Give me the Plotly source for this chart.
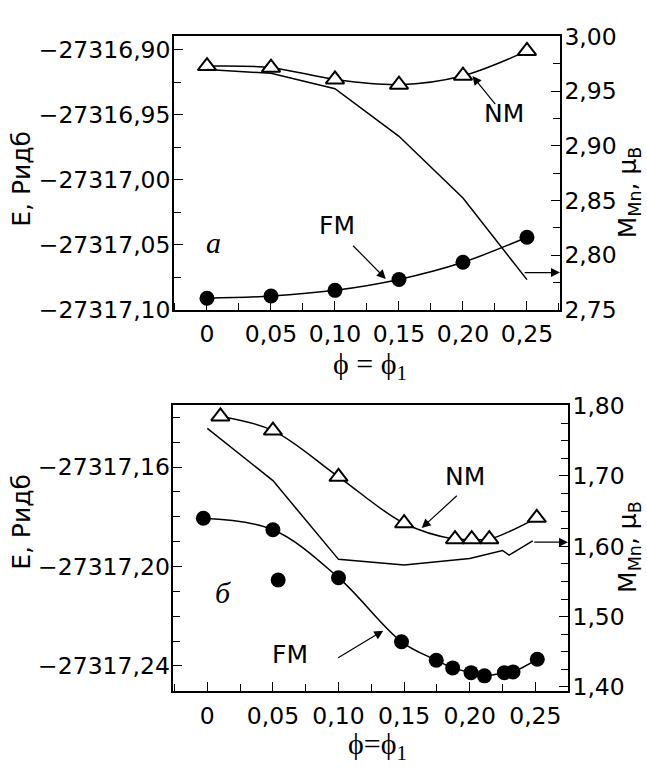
import plotly.graph_objects as go

# ---------------- Panel a ----------------
phi_a = [0, 0.05, 0.10, 0.15, 0.20, 0.25]
E_nm_a = [-27316.9124, -27316.9136, -27316.9227, -27316.9267, -27316.9198, -27316.9007]
E_fm_a = [-27317.0911, -27317.0894, -27317.0850, -27317.0766, -27317.0634, -27317.0441]
M_a = [2.9698, 2.9663, 2.9522, 2.9087, 2.8523, 2.7776]

# ---------------- Panel b ----------------
phi_nm_b = [0.01, 0.05, 0.10, 0.15, 0.1888, 0.2015, 0.2149, 0.2511]
E_nm_b = [-27317.1396, -27317.1453, -27317.1639, -27317.1826, -27317.1890,
          -27317.1890, -27317.1890, -27317.1804]
phi_fm_b = [-0.003, 0.05, 0.054, 0.10, 0.148, 0.1745, 0.187, 0.201, 0.2112,
            0.2264, 0.233, 0.2515]
E_fm_b = [-27317.1806, -27317.1852, -27317.2054, -27317.2045, -27317.2303,
          -27317.2377, -27317.2408, -27317.2427, -27317.2440, -27317.2427,
          -27317.2424, -27317.2373]
fm_b_outlier = 2  # point not on the fitted curve
phi_m_b = [0, 0.05, 0.10, 0.15, 0.20, 0.225, 0.23, 0.248]
M_b = [1.7678, 1.6934, 1.5814, 1.5735, 1.5827, 1.5941, 1.5873, 1.6078]

# ---------------- Ticks ----------------
x_tickvals = [0, 0.05, 0.10, 0.15, 0.20, 0.25]
x_ticktext = ["0", "0,05", "0,10", "0,15", "0,20", "0,25"]
Ea_tickvals = [-27317.10, -27317.05, -27317.00, -27316.95, -27316.90]
Ea_ticktext = ["\u221227317,10", "\u221227317,05", "\u221227317,00", "\u221227316,95", "\u221227316,90"]
Ma_tickvals = [2.75, 2.80, 2.85, 2.90, 2.95, 3.00]
Ma_ticktext = ["2,75", "2,80", "2,85", "2,90", "2,95", "3,00"]
Eb_tickvals = [-27317.24, -27317.20, -27317.16]
Eb_ticktext = ["\u221227317,24", "\u221227317,20", "\u221227317,16"]
Mb_tickvals = [1.40, 1.50, 1.60, 1.70, 1.80]
Mb_ticktext = ["1,40", "1,50", "1,60", "1,70", "1,80"]

SANS = "DejaVu Sans, Liberation Sans, sans-serif"
SERIF = "Liberation Serif, Times New Roman, serif"
FS = 23.5
LW = 1.5

fig = go.Figure()

tri = dict(symbol="triangle-up", size=16, color="white", line=dict(color="black", width=2))
dot = dict(symbol="circle", size=15, color="black")

# Panel a traces
fig.add_trace(go.Scatter(x=phi_a, y=M_a, mode="lines", line=dict(color="black", width=LW),
                         xaxis="x", yaxis="y2"))
fig.add_trace(go.Scatter(x=phi_a, y=E_nm_a, mode="lines", line=dict(color="black", width=LW, shape="spline", smoothing=1),
                         xaxis="x", yaxis="y"))
fig.add_trace(go.Scatter(x=phi_a, y=E_fm_a, mode="lines", line=dict(color="black", width=LW, shape="spline", smoothing=1),
                         xaxis="x", yaxis="y"))
fig.add_trace(go.Scatter(x=phi_a, y=E_nm_a, mode="markers", marker=tri, xaxis="x", yaxis="y"))
fig.add_trace(go.Scatter(x=phi_a, y=E_fm_a, mode="markers", marker=dot, xaxis="x", yaxis="y"))

# Panel b traces
curve_x = [v for i, v in enumerate(phi_fm_b) if i != fm_b_outlier]
curve_y = [v for i, v in enumerate(E_fm_b) if i != fm_b_outlier]
fig.add_trace(go.Scatter(x=phi_m_b, y=M_b, mode="lines", line=dict(color="black", width=LW),
                         xaxis="x2", yaxis="y4"))
fig.add_trace(go.Scatter(x=phi_nm_b, y=E_nm_b, mode="lines", line=dict(color="black", width=LW, shape="spline", smoothing=1),
                         xaxis="x2", yaxis="y3"))
fig.add_trace(go.Scatter(x=curve_x, y=curve_y, mode="lines", line=dict(color="black", width=LW, shape="spline", smoothing=1),
                         xaxis="x2", yaxis="y3"))
fig.add_trace(go.Scatter(x=phi_nm_b, y=E_nm_b, mode="markers", marker=tri, xaxis="x2", yaxis="y3"))
fig.add_trace(go.Scatter(x=phi_fm_b, y=E_fm_b, mode="markers", marker=dot, xaxis="x2", yaxis="y3"))

common = dict(showline=True, linecolor="black", linewidth=LW, showgrid=False, zeroline=False,
              ticks="inside", ticklen=9, tickwidth=1.3, tickcolor="black",
              tickfont=dict(family=SANS, size=FS, color="black"))

def minor(t0, dt):
    return dict(tickmode="linear", tick0=t0, dtick=dt, ticks="inside", ticklen=7, tickwidth=1.3, tickcolor="black")

xr_a = [-0.0258, 0.2758]
xr_b = [-0.0259, 0.2749]

fig.update_layout(
    width=647, height=770, margin=dict(l=0, r=0, t=0, b=0),
    paper_bgcolor="white", plot_bgcolor="white", showlegend=False,
    xaxis=dict(domain=[0.2689, 0.8655], anchor="y", range=xr_a, mirror=True,
               tickmode="array", tickvals=x_tickvals, ticktext=x_ticktext, ticklabelstandoff=2,
               minor=minor(0, 0.025), **common),
    yaxis=dict(domain=[0.6013, 0.9697], anchor="x", range=[-27317.10, -27316.8896], mirror=True,
               tickmode="array", tickvals=Ea_tickvals, ticktext=Ea_ticktext, ticklabelstandoff=-3,
               minor=minor(-27317.10, 0.025), **common),
    yaxis2=dict(overlaying="y", side="right", anchor="x", range=[2.75, 3.0],
                tickmode="array", tickvals=Ma_tickvals, ticktext=Ma_ticktext, ticklabelstandoff=-2,
                minor=minor(2.75, 0.025), **common),
    xaxis2=dict(domain=[0.2679, 0.8779], anchor="y3", range=xr_b, mirror=True,
                tickmode="array", tickvals=x_tickvals, ticktext=x_ticktext, ticklabelstandoff=3,
                minor=minor(0, 0.025), **common),
    yaxis3=dict(domain=[0.0879, 0.4731], anchor="x2", range=[-27317.25, -27317.135], mirror=True,
                tickmode="array", tickvals=Eb_tickvals, ticktext=Eb_ticktext, ticklabelstandoff=-3,
                minor=minor(-27317.25, 0.01), **common),
    yaxis4=dict(overlaying="y3", side="right", anchor="x2", range=[1.3945, 1.801],
                tickmode="array", tickvals=Mb_tickvals, ticktext=Mb_ticktext, ticklabelstandoff=-2,
                minor=minor(1.40, 0.025), **common),
)

ann = []
lab = dict(family=SANS, size=25, color="black")
ttl = dict(family=SANS, size=25, color="black")
ital = dict(family=SERIF, size=30, color="black")

def text(x, y, t, xref, yref, font):
    ann.append(dict(x=x, y=y, text=t, xref=xref, yref=yref, showarrow=False, font=font,
                    xanchor="center", yanchor="middle"))

def arrow(x, y, ax, ay, xref, yref):
    ann.append(dict(x=x, y=y, ax=ax, ay=ay, xref=xref, yref=yref, axref=xref, ayref=yref,
                    text="", showarrow=True, arrowhead=2, arrowsize=1.5, arrowwidth=1.2,
                    arrowcolor="black", standoff=0, startstandoff=0))

# panel a labels
text(0.0049, -27317.0478, "<i>a</i>", "x", "y", ital)
text(0.1019, -27317.0354, "FM", "x", "y", lab)
arrow(0.1397, -27317.0762, 0.113, -27317.0495, "x", "y")
text(0.2318, -27316.949, "NM", "x", "y", lab)
arrow(0.2074, -27316.920, 0.2262, -27316.9428, "x", "y")
arrow(xr_a[1], 2.7841, phi_a[-1] - 0.003, 2.7841, "x", "y2")

# panel b labels
text(0.0117, -27317.2103, "<i>б</i>", "x2", "y3", ital)
text(0.063, -27317.2355, "FM", "x2", "y3", lab)
arrow(0.1341, -27317.2258, 0.0986, -27317.2371, "x2", "y3")
text(0.1964, -27317.1639, "NM", "x2", "y3", lab)
arrow(0.1634, -27317.1845, 0.1913, -27317.1710, "x2", "y3")
arrow(xr_b[1], M_b[-1] - 0.002, phi_m_b[-1], M_b[-1] - 0.002, "x2", "y4")

# axis titles
for yy in (1 - 171 / 770, 1 - 527 / 770):
    text(22 / 647, yy, "E, Ридб", "paper", "paper", ttl)
    ann[-1]["textangle"] = -90
for yy in (1 - 185 / 770, 1 - 553 / 770):
    text(629 / 647, yy, "M<sub>Mn</sub>, μ<sub>B</sub>", "paper", "paper", ttl)
    ann[-1]["textangle"] = -90
text(370 / 647, 1 - 365 / 770, "ϕ = ϕ<sub>1</sub>", "paper", "paper", dict(family=SERIF, size=30, color="black"))
text(377 / 647, 1 - 760 / 770, "ϕ=ϕ<sub>1</sub>", "paper", "paper", dict(family=SERIF, size=30, color="black"))

fig.update_layout(annotations=ann)
fig.write_html("out.html")
